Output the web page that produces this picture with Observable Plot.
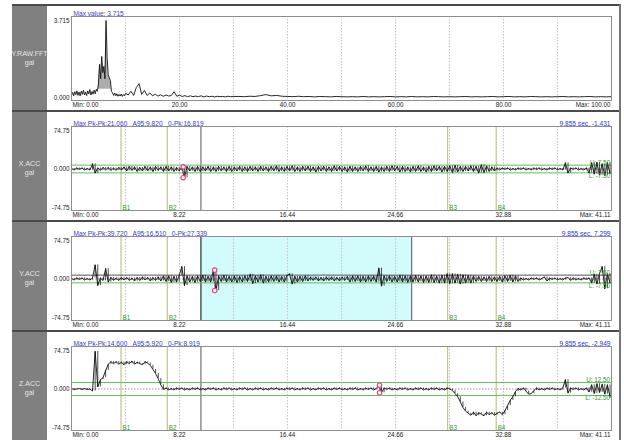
<!DOCTYPE html>
<html><head><meta charset="utf-8">
<script src="https://cdn.jsdelivr.net/npm/d3@7"></script>
<script src="https://cdn.jsdelivr.net/npm/@observablehq/plot@0.6"></script>
<style>
html,body{margin:0;padding:0;background:#fff;}
body{width:624px;height:440px;overflow:hidden;position:relative;font-family:"Liberation Sans",Arial,sans-serif;}
.col{position:absolute;left:12px;top:4px;width:35px;height:436px;background:#808080;}
.sep{position:absolute;left:12px;width:608px;height:2px;background:#4a4a4a;}
.rb{position:absolute;left:619px;top:4px;width:1.5px;height:436px;background:#777;}
.lab{position:absolute;left:0px;width:59px;text-align:center;color:#e6e6e6;font-size:7px;line-height:9px;}
.panel{position:absolute;left:48px;width:572px;height:110px;}
.panel svg{overflow:visible;}
</style></head><body>
<div class="col"></div>
<script>
// ---------- data ----------
const names = ["Y.RAW.FFT", "X.ACC", "Y.ACC", "Z.ACC"];
const unit = "gal";
const headers = [
  "Max value: 3.715",
  "Max Pk-Pk:21.060\u00a0\u00a0 A95:9.820\u00a0\u00a0 0-Pk:16.819",
  "Max Pk-Pk:39.720\u00a0\u00a0 A95:16.510\u00a0\u00a0 0-Pk:27.339",
  "Max Pk-Pk:14.600\u00a0\u00a0 A95:5.920\u00a0\u00a0 0-Pk:8.919"
];
const cursorLabels = ["9.855 sec, -1.431", "9.855 sec, 7.299", "9.855 sec, -2.949"];
const cursorT = 9.855;
const tMax = 41.11;
const fMax = 100;
const accMax = 74.75;
const fftMax = 3.715;
const minLabels = ["Min: 0.00", "Min: 0.00"];
const maxLabels = ["Max: 100.00", "Max: 41.11"];
const freqTicks = [20, 40, 60, 80];
const freqTickLabels = ["20.00", "40.00", "60.00", "80.00"];
const freqGrid = [10, 20, 30, 40, 50, 60, 70, 80, 90];
const timeTicks = [8.22, 16.44, 24.66, 32.88];
const timeTickLabels = ["8.22", "16.44", "24.66", "32.88"];
const timeGrid = [4.11, 8.22, 12.33, 16.44, 20.56, 24.67, 28.78, 32.89, 37.0];
const fftYTicks = [3.715, 0];
const fftYLabels = ["3.715", "0.000"];
const accYTicks = [74.75, 0, -74.75];
const accYLabels = ["74.75", "0.000", "-74.75"];
const bTimes = [3.77, 7.29, 28.64, 32.33];
const bNames = ["B1", "B2", "B3", "B4"];
const limU = [7.5, 7.5, 12.5];
const limL = [-7.5, -7.5, -12.5];
const limULabels = ["U: 7.50", "U: 7.50", "U: 12.50"];
const limLLabels = ["L: -7.50", "L: -7.50", "L: -12.50"];
const peakT = [8.5, 10.9, 23.45];
const peakMax = [4.24, 17.4, 7.3];
const peakMin = [-16.82, -22.3, -7.3];
const shadeStart = [null, 9.855, null];
const shadeEnd = [null, 25.9, null];

// FFT spectrum (Hz grid: 0-10 step 0.2, 10.5-30 step 0.5, 31-100 step 1)
const fftLow = [0.10,0.24,0.08,0.28,0.14,0.32,0.10,0.26,0.08,0.30,
  0.15,0.35,0.12,0.27,0.09,0.32,0.17,0.38,0.12,0.29,
  0.16,0.36,0.18,0.40,0.30,0.70,1.60,0.90,1.98,1.20,
  1.50,0.90,3.715,1.90,1.10,0.95,0.82,0.30,0.22,0.10,
  0.22,0.08,0.18,0.06,0.15,0.07,0.17,0.05,0.14,0.08,0.20];
const fftMid = [0.12,0.30,0.10,0.48,0.67,0.15,0.34,0.10,0.22,0.08,
  0.16,0.07,0.13,0.06,0.12,0.07,0.10,0.28,0.06,0.11,
  0.05,0.09,0.04,0.08,0.04,0.07,0.04,0.08,0.03,0.07,
  0.04,0.06,0.03,0.06,0.04,0.05,0.03,0.06,0.04,0.05];
const fftHigh = [0.05,0.04,0.06,0.05,0.09,0.14,0.08,0.10,0.06,0.05,
  0.04,0.06,0.04,0.05,0.03,0.05,0.04,0.03,0.05,0.04,
  0.03,0.04,0.03,0.05,0.03,0.04,0.03,0.04,0.05,0.03,
  0.04,0.03,0.05,0.03,0.04,0.03,0.05,0.04,0.03,0.04,
  0.03,0.04,0.05,0.03,0.04,0.03,0.04,0.05,0.03,0.04,
  0.05,0.03,0.04,0.03,0.05,0.04,0.03,0.04,0.03,0.04,
  0.05,0.03,0.04,0.03,0.04,0.05,0.03,0.04,0.03,0.04];
const fftDenseBand = [5.0, 7.4]; // band drawn as a dense grey spread in the original

// acceleration records, gal, sample interval 0.2 s
const dt = 0.2;
const xAcc = [1,-2,2,-1,2,-2,1,-2,10,-8,
  2,-3,3,-2,3,-3,2,-3,3,-2,
  4,-4,5,-3,4,-5,3,-4,5,-4,
  4,-5,5,-3,4,-5,5,-4,4,-5,
  3,-4,4,-17,5,-4,4,-5,5,-5,
  4,-4,5,-5,4,-5,5,-4,4,-5,
  5,-5,4,-4,5,-5,4,-5,5,-4,
  4,-5,5,-4,4,-5,5,-4,6,-5,
  4,-5,5,-4,6,-5,4,-5,5,-4,
  5,-5,4,-6,5,-4,5,-5,4,-5,
  6,-4,5,-5,4,-6,5,-5,4,-5,
  5,-4,6,-5,4,-5,5,-6,4,-5,
  5,-5,6,-4,5,-6,5,-5,4,-6,
  5,-5,6,-5,4,-6,5,-5,6,-4,
  5,-6,5,-5,6,-7,7,-6,5,-5,
  5,-4,6,-5,5,-8,8,-7,6,-5,
  4,-4,2,-2,2,-1,2,-2,1,-2,
  2,-1,2,-2,1,-2,2,-1,2,-2,
  1,-2,2,-1,2,-2,1,-2,12,-8,
  2,-1,2,-2,1,-2,2,-8,12,-10,
  13,-12,10,-13,12,-9];
const yAcc = [1,-2,2,-1,2,-2,1,-2,2,27.3,
  -13,2,-3,20,-6,3,-3,2,-3,3,
  -2,3,-3,2,-4,3,-3,4,-2,3,
  -4,3,-3,4,-4,6,-5,6,-7,5,
  -6,7,24,-13,6,-6,5,-7,6,-5,
  7,-6,5,-6,17.4,-22.3,6,-5,7,-6,
  5,-6,6,-7,5,-6,6,-5,9,-9,
  6,-6,8,-8,5,-6,6,-5,6,-6,
  5,-6,7,10,-10,5,-6,5,-5,6,
  -4,4,-3,4,-4,3,-4,4,-3,4,
  -4,3,-4,4,-3,5,-6,6,-5,6,
  -6,5,-6,6,-5,6,-6,21,-14,6,
  -5,6,-6,5,-6,7,-6,6,-7,6,
  -6,7,-6,6,-7,6,-7,8,-7,6,
  -8,7,-8,10,-9,10,-8,9,-10,8,
  -8,7,-8,6,-5,5,-5,4,-5,5,
  -5,4,-5,5,-6,6,-5,7,-6,6,
  -5,2,-2,1,-2,2,-1,2,-2,1,
  4,-4,2,-1,2,-2,1,-2,2,3,
  -3,2,-2,1,-2,2,-1,2,-8,9,
  -10,11,24,-19,10,-8];
const zAcc = [1,-1,0,1,-1,1,-1,0,-4,73,
  4,18,22,36,48,53,49,53,48,52,
  47,53,49,54,48,52,49,47,53,50,
  46,38,30,20,8,-1,2,-2,1,-2,
  2,-1,2,-2,1,-2,2,-1,2,-2,
  1,-2,2,-1,2,-2,1,-2,2,-1,
  2,-2,1,-2,2,-1,2,-2,1,-2,
  2,-1,2,-2,1,-2,2,-1,2,-2,
  1,-2,2,-1,2,-2,1,-2,2,-1,
  2,-2,1,-2,2,-1,2,-2,1,-2,
  2,-1,2,-2,1,-2,2,-1,2,-2,
  1,-2,2,-1,2,-2,1,7.3,-7.3,2,
  -1,2,-2,1,-2,2,-1,2,-2,1,
  -2,2,-1,2,-2,1,-2,2,-1,2,
  -2,1,-2,2,0,-3,-9,-15,-25,-36,
  -43,-47,-51,-45,-52,-46,-49,-52,-45,-50,
  -46,-51,-47,-45,-50,-42,-32,-22,-15,-5,
  1,-2,2,-4,-10,-9,-3,2,-2,1,
  -2,2,-1,2,-2,1,-2,2,18,-8,
  2,-1,2,-2,1,-2,2,-6,8,-9,
  10,-7,9,-10,8,-16];
const accSeries = [xAcc, yAcc, zAcc];

// ---------- styling ----------
const FONT = '"Liberation Sans", Arial, sans-serif';
const C = {
  frame: "#8e8e8e", grid: "#c4c4c4", line: "#111", header: "#3a3acc", cursorTxt: "#2f2ff0",
  green: "#62bc62", greenTxt: "#2f9a2f", bline: "#b8b86e", cursor: "#555", peak: "#e6407c", shade: "#d2fbfb"
};
const W = 572, H = 110, ML = 23, MR = 9, MT = 12, MB = 14;

function addPanel(k, plot) {
  const d = document.createElement("div");
  d.className = "panel";
  d.style.top = (4 + 110 * k) + "px";
  d.append(plot);
  document.body.append(d);
}
function addLabel(k) {
  const centers = [58, 168, 278, 388];
  const d = document.createElement("div");
  d.className = "lab";
  d.style.top = (centers[k] - 9) + "px";
  d.innerHTML = names[k] + "<br>" + unit;
  document.body.append(d);
}

const base = {
  width: W, height: H, marginLeft: ML, marginRight: MR, marginTop: MT, marginBottom: MB,
  style: {fontFamily: FONT, fontSize: "6.3px", background: "transparent", color: "#222", overflow: "visible"}
};

// ---- panel 0: FFT ----
const fftData = [];
fftLow.forEach((v, i) => fftData.push({f: i * 0.2, a: v}));
fftMid.forEach((v, i) => fftData.push({f: 10.5 + i * 0.5, a: v}));
fftHigh.forEach((v, i) => fftData.push({f: 31 + i, a: v}));
const fftBand = fftData.filter(d => d.f >= fftDenseBand[0] && d.f <= fftDenseBand[1]);

addPanel(0, Plot.plot({
  ...base,
  x: {domain: [0, fMax]},
  y: {domain: [0, fftMax], insetTop: 4, insetBottom: 3},
  marks: [
    Plot.ruleX(freqGrid, {stroke: C.grid, strokeDasharray: "1.5,1.5"}),
    Plot.areaY(fftBand, {x: "f", y1: 0.4, y2: "a", fill: "#8a8a8a", fillOpacity: 0.7}),
    Plot.line(fftData, {x: "f", y: "a", stroke: "#111", strokeWidth: 0.9}),
    Plot.frame({stroke: C.frame}),
    Plot.axisY(fftYTicks, {tickSize: 0, tickPadding: 2, label: null, tickFormat: d => fftYLabels[fftYTicks.indexOf(d)]}),
    Plot.axisX(freqTicks, {tickSize: 0, tickPadding: 2, label: null, tickFormat: d => freqTickLabels[freqTicks.indexOf(d)]}),
    Plot.text([minLabels[0]], {frameAnchor: "bottom-left", textAnchor: "start", lineAnchor: "top", dy: 2, dx: 1}),
    Plot.text([maxLabels[0]], {frameAnchor: "bottom-right", textAnchor: "end", lineAnchor: "top", dy: 2, dx: -1}),
    Plot.text([headers[0]], {frameAnchor: "top-left", textAnchor: "start", lineAnchor: "bottom", dx: 2, dy: -0.5, fill: C.header, fontSize: 6.6})
  ]
}));
addLabel(0);

// ---- acceleration panels ----
for (let j = 0; j < 3; j++) {
  const k = j + 1;
  const vals = accSeries[j];
  const series = vals.map((v, i) => ({t: i * dt, v, prev: i > 0 ? vals[i - 1] : v}));
  const shade = shadeStart[j] != null ? [{a: shadeStart[j], b: shadeEnd[j]}] : [];
  const peaks = [{t: peakT[j], v: peakMax[j]}, {t: peakT[j], v: peakMin[j]}];
  addPanel(k, Plot.plot({
    ...base,
    x: {domain: [0, tMax]},
    y: {domain: [-accMax, accMax], insetTop: 4, insetBottom: 3},
    marks: [
      Plot.rect(shade, {x1: "a", x2: "b", fill: C.shade}),
      Plot.ruleX(timeGrid, {stroke: C.grid, strokeDasharray: "1.5,1.5"}),
      Plot.ruleX(shade.flatMap(s => [s.a, s.b]), {stroke: C.cursor}),
      Plot.ruleX([cursorT], {stroke: C.cursor}),
      Plot.ruleX(bTimes, {stroke: C.bline}),
      Plot.ruleY([0], {stroke: "#999", strokeDasharray: "1.5,1.5"}),
      Plot.ruleY([limU[j]], {stroke: j === 1 ? "#555" : C.green}),
      Plot.ruleY([limL[j]], {stroke: C.green}),
      Plot.ruleX(series, {x: "t", y1: "prev", y2: "v", stroke: "#222", strokeWidth: 0.8}),
      Plot.line(series, {x: "t", y: "v", stroke: C.line, strokeWidth: 0.9}),
      Plot.line(peaks, {x: "t", y: "v", stroke: C.peak, strokeWidth: 0.7}),
      Plot.dot(peaks, {x: "t", y: "v", r: 2.2, stroke: C.peak, fill: "#fff", strokeWidth: 1.1}),
      Plot.frame({stroke: C.frame}),
      Plot.axisY(accYTicks, {tickSize: 0, tickPadding: 2, label: null, tickFormat: d => accYLabels[accYTicks.indexOf(d)]}),
      Plot.axisX(timeTicks, {tickSize: 0, tickPadding: 2, label: null, tickFormat: d => timeTickLabels[timeTicks.indexOf(d)]}),
      Plot.text([minLabels[1]], {frameAnchor: "bottom-left", textAnchor: "start", lineAnchor: "top", dy: 2, dx: 1}),
      Plot.text([maxLabels[1]], {frameAnchor: "bottom-right", textAnchor: "end", lineAnchor: "top", dy: 2, dx: -1}),
      Plot.text(bTimes, {x: d => d, frameAnchor: "bottom", text: (d, i) => bNames[i], textAnchor: "start", lineAnchor: "bottom", dx: 1.5, dy: -0.5, fill: C.greenTxt}),
      Plot.text([limU[j]], {x: () => tMax, y: d => d, text: () => limULabels[j], textAnchor: "end", lineAnchor: "bottom", dx: -1.5, dy: -0.3, fill: C.greenTxt}),
      Plot.text([limL[j]], {x: () => tMax, y: d => d, text: () => limLLabels[j], textAnchor: "end", lineAnchor: "top", dx: -1.5, dy: 0.5, fill: C.greenTxt}),
      Plot.text([headers[k]], {frameAnchor: "top-left", textAnchor: "start", lineAnchor: "bottom", dx: 2, dy: -0.5, fill: C.header, fontSize: 6.6}),
      Plot.text([cursorLabels[j]], {frameAnchor: "top-right", textAnchor: "end", lineAnchor: "bottom", dx: -1, dy: -0.5, fill: C.cursorTxt, fontSize: 6.6})
    ]
  }));
  addLabel(k);
}

// separators and border
[4, 110, 220, 330].forEach(y => {
  const s = document.createElement("div");
  s.className = "sep"; s.style.top = y + "px";
  if (y === 4) s.style.height = "1.5px";
  document.body.append(s);
});
const rb = document.createElement("div"); rb.className = "rb"; document.body.append(rb);
</script>
</body></html>
